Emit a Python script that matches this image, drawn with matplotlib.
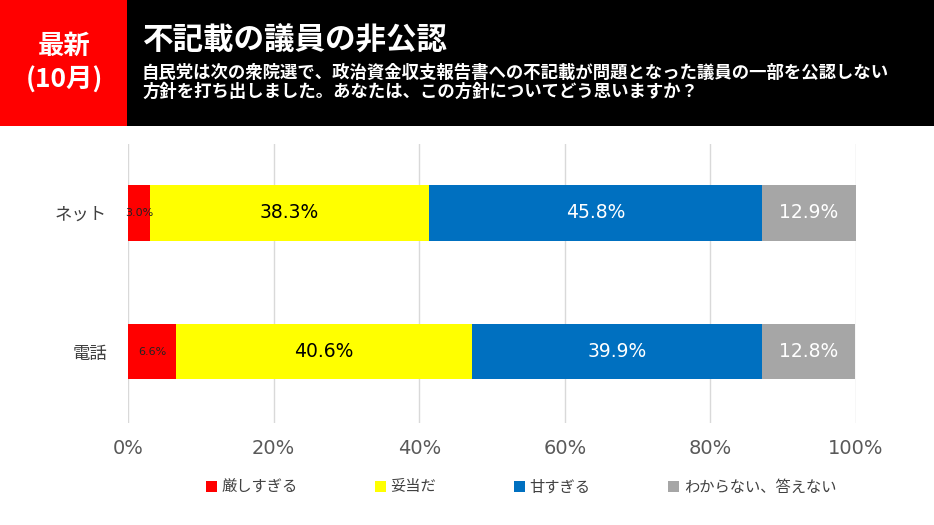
import matplotlib
matplotlib.use("Agg")
import matplotlib.pyplot as plt
from matplotlib.patches import Rectangle

plt.rcParams['font.family'] = ['Noto Sans CJK JP', 'DejaVu Sans']

categories = ['ネット', '電話']
series_names = ['厳しすぎる', '妥当だ', '甘すぎる', 'わからない、答えない']
values = {
    '厳しすぎる': [3.0, 6.6],
    '妥当だ': [38.3, 40.6],
    '甘すぎる': [45.8, 39.9],
    'わからない、答えない': [12.9, 12.8],
}
colors = ['#FF0000', '#FFFF00', '#0070C0', '#A6A6A6']
label_colors = ['#222222', '#000000', '#FFFFFF', '#FFFFFF']
tick_values = [0, 20, 40, 60, 80, 100]
tick_labels = ['0%', '20%', '40%', '60%', '80%', '100%']

W, H = 934, 525
fig = plt.figure(figsize=(W / 100, H / 100), dpi=100)
fig.patch.set_facecolor('white')

# header
fig.patches.append(Rectangle((0, 1 - 126 / H), 1, 126 / H, transform=fig.transFigure,
                             facecolor='black', edgecolor='none', zorder=0))
fig.patches.append(Rectangle((0, 1 - 126 / H), 127 / W, 126 / H, transform=fig.transFigure,
                             facecolor='#FF0000', edgecolor='none', zorder=1))
fig.text(64 / W, 1 - 46 / H, '最新', color='white', fontsize=19, fontweight='bold',
         ha='center', va='center')
fig.text(64 / W, 1 - 80 / H, '(10月)', color='white', fontsize=19, fontweight='bold',
         ha='center', va='center')
fig.text(143 / W, 1 - 41 / H, '不記載の議員の非公認', color='white', fontsize=22,
         fontweight='bold', ha='left', va='center')
fig.text(142 / W, 1 - 73 / H,
         '自民党は次の衆院選で、政治資金収支報告書への不記載が問題となった議員の一部を公認しない',
         color='white', fontsize=12.5, fontweight='bold', ha='left', va='center')
fig.text(142 / W, 1 - 92 / H, '方針を打ち出しました。あなたは、この方針についてどう思いますか？',
         color='white', fontsize=12.5, fontweight='bold', ha='left', va='center')

ax = fig.add_axes([128 / W, 1 - 422.5 / H, (856 - 128) / W, (422.5 - 143.5) / H])
ax.set_xlim(0, 100)
ax.set_ylim(1.51, -0.5)
ypos = list(range(len(categories)))
left = [0.0] * len(categories)
handles = []
for i, name in enumerate(series_names):
    vals = values[name]
    b = ax.barh(ypos, vals, left=left, height=0.4, color=colors[i], label=name, zorder=2)
    handles.append(b)
    for j, v in enumerate(vals):
        cx = left[j] + v / 2
        fs = 8 if i == 0 else 13.5
        ax.text(cx, ypos[j], f'{v:.1f}%', ha='center', va='center', fontsize=fs,
                color=label_colors[i], zorder=3, family='DejaVu Sans')
    left = [l + v for l, v in zip(left, vals)]

ax.set_xticks(tick_values)
ax.set_xticklabels(tick_labels, fontsize=14, color='#595959', family='DejaVu Sans')
ax.set_yticks(ypos)
ax.set_yticklabels(categories, fontsize=12.5, color='#404040')
ax.tick_params(axis='both', length=0)
ax.tick_params(axis='x', pad=12)
ax.tick_params(axis='y', pad=15)
ax.grid(axis='x', color='#D9D9D9', linewidth=1, zorder=0)
for s in ax.spines.values():
    s.set_visible(False)

fig.legend(handles=handles, labels=series_names, ncol=4, loc='center',
           bbox_to_anchor=(521 / W, 1 - 487 / H), frameon=False, fontsize=11,
           handlelength=0.7, handleheight=0.7, handletextpad=0.3, columnspacing=5.1,
           labelcolor='#404040')

fig.savefig('out.png', dpi=100)
